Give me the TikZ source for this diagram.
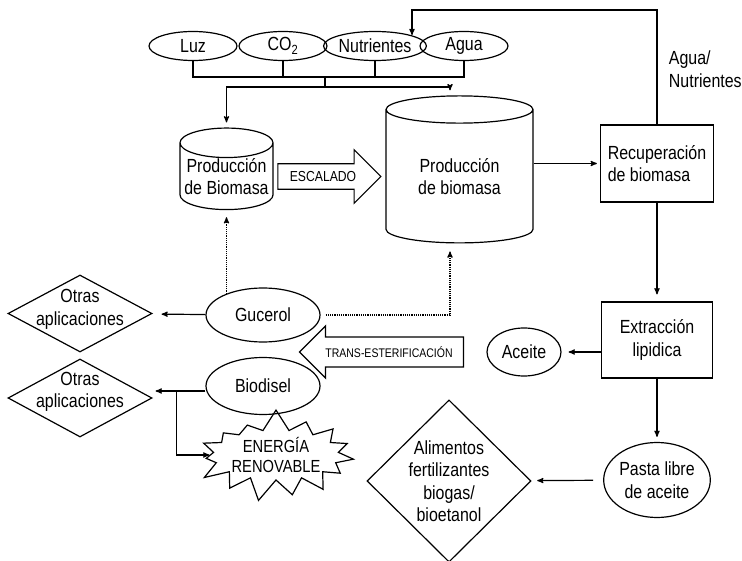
\documentclass[tikz,border=0pt]{standalone}
\usepackage{fontspec}
\setmainfont[FakeStretch=0.84]{Liberation Sans}
\usetikzlibrary{arrows,shapes.geometric,shapes.arrows,shapes.symbols}

\begin{document}
\begin{tikzpicture}[x=1pt,y=-1pt,->,>=stealth',line width=1.2pt,
        every node/.style={font=\fontsize{19}{22.5}\selectfont},
        insumo/.style={ellipse,draw,minimum width=88pt,minimum height=29pt,inner sep=0pt},
        tanque/.style={cylinder,shape border rotate=90,draw,align=center,inner sep=0pt},
        caja/.style={rectangle,draw,minimum width=113pt,minimum height=77pt},
        globo/.style={ellipse,draw,align=center,inner sep=0pt},
        rombo/.style={diamond,draw,align=center,inner sep=0pt},
        flecha/.style={single arrow,draw,inner xsep=2pt},
        punteado/.style={densely dotted}]

  \useasboundingbox (0,0) rectangle (742,561);

  % insumos
  \node[insumo] (luz)   at (193,46) {Luz};
  \node[insumo] (co2)   at (283,46) {CO\textsubscript{2}};
  \node[insumo] (nutri) at (375,46) {Nutrientes};
  \node[insumo] (agua)  at (464,46) {Agua};

  % produccion
  \node[tanque,minimum width=93pt,minimum height=77pt,aspect=0.35] (cilchico) at (226.5,176.5) {Producción\\de Biomasa};
  \node[tanque,minimum width=147pt,minimum height=147pt,aspect=0.33] (cilgrande) at (459.5,176.5) {Producción\\de biomasa};
  \node[flecha,font=\fontsize{14.5}{16}\selectfont,inner ysep=7pt,single arrow head extend=14pt,
        minimum height=103pt] (escalado) at (323,176.5) {ESCALADO};

  % recuperacion y extraccion
  \node[caja,align=left] (recup) at (657,163.5) {Recuperación\\de biomasa};
  \node[caja,align=center,minimum width=111pt,minimum height=76pt] (extr) at (657,340) {Extracción\\lipidica};
  \node[align=left,anchor=west] (etiq) at (665,69) {Agua/\\Nutrientes};
  \node[globo,minimum width=74pt,minimum height=48pt] (aceite) at (524,352) {Aceite};
  \node[globo,minimum width=100pt,minimum height=75pt] (pasta) at (657,480) {Pasta libre\\de aceite};
  \node[rombo,minimum width=164pt,minimum height=162pt] (alim) at (449,481) {Alimentos\\fertilizantes\\biogas/\\bioetanol};

  % productos
  \node[globo,minimum width=114pt,minimum height=54pt] (gucerol) at (263,315) {Gucerol};
  \node[globo,minimum width=114pt,minimum height=57pt] (biodisel) at (263,386) {Biodisel};
  \node[rombo,minimum width=144pt,minimum height=77pt,
        label={[align=center,yshift=4pt]center:Otras\\aplicaciones}] (otras1) at (80,313.5) {};
  \node[rombo,minimum width=144pt,minimum height=78pt,
        label={[align=center,yshift=6pt]center:Otras\\aplicaciones}] (otras2) at (80,398) {};
  \node[flecha,font=\fontsize{12.5}{14}\selectfont,inner ysep=9pt,single arrow head extend=11pt,
        minimum height=164pt,shape border rotate=180] (trans) at (389,352) {TRANS-ESTERIFICACIÓN};
  \node[starburst,draw,align=center,inner sep=0pt,starburst points=15,starburst point height=22pt,
        random starburst=7,font=\fontsize{17.5}{20}\selectfont] (energia) at (276,455) {ENERGÍA\\RENOVABLE};

  % conexiones
  \coordinate (barra)   at (325,77);
  \coordinate (reparto) at (325,87);
  \coordinate (retorno) at (412,35);
  \draw[-] (luz) -- (luz |- barra) -- (agua |- barra) -- (agua);
  \draw[-] (co2) -- (co2 |- barra);
  \draw[-] (nutri) -- (nutri |- barra);
  \draw[-] (barra) -- (reparto);
  \draw[shorten >=5pt] (reparto) -| (cilchico);
  \draw[shorten >=5pt] (reparto) -| ([xshift=-9.5pt]cilgrande.north);
  \draw (recup) -- (recup |- 0,10) -| (retorno);
  \draw[shorten >=3pt] (cilgrande.east |- recup) -- (recup);
  \draw[shorten >=7pt] (recup) -- (extr);
  \draw[shorten >=7pt] (extr.west |- aceite) -- (aceite);
  \draw[shorten >=5pt] (extr) -- (pasta);
  \draw[shorten <=10pt,shorten >=6pt] (pasta) -- (alim);
  \draw[shorten >=10pt] (gucerol) -- (otras1);
  \draw[shorten >=3pt] ([yshift=-5pt]biodisel.west) -- ([yshift=-5pt]biodisel.west -| otras2.east);
  \draw ([xshift=-29pt,yshift=-5pt]biodisel.west) |- (energia);
  \draw[punteado,shorten >=7pt] (cilchico.south |- gucerol.150) -- (cilchico.south);
  \draw[punteado,shorten <=5pt,shorten >=8pt] (gucerol.east) -| ([xshift=-9.5pt]cilgrande.south);

\end{tikzpicture}
\end{document}
